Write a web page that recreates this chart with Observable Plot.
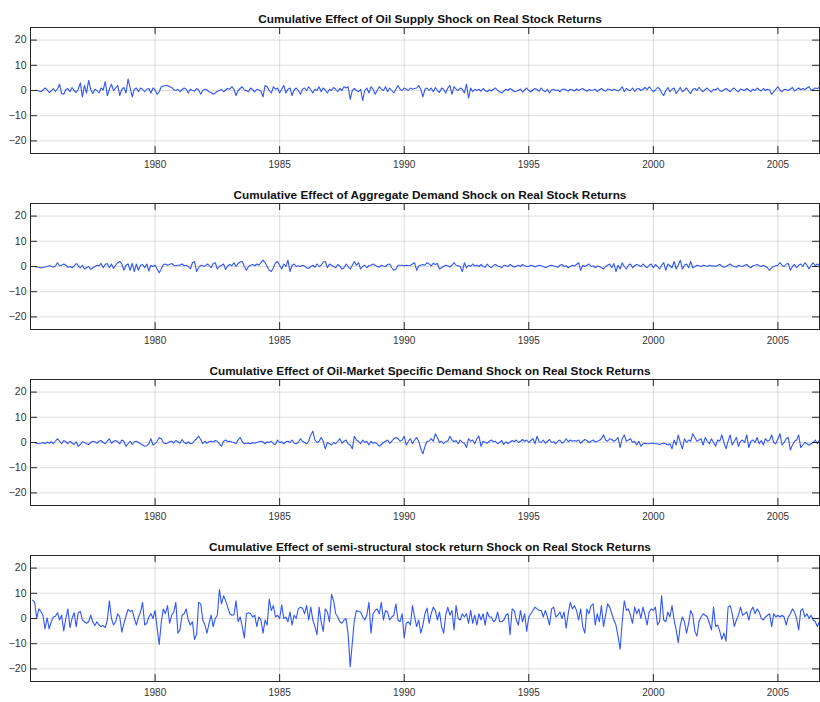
<!DOCTYPE html>
<html><head><meta charset="utf-8">
<script src="https://cdn.jsdelivr.net/npm/d3@7"></script>
<script src="https://cdn.jsdelivr.net/npm/@observablehq/plot@0.6"></script>
<style>body{margin:0;background:#fff;} #chart svg{display:block;}</style>
</head><body><div id="chart"></div>
<script>
const titles = [
  "Cumulative Effect of Oil Supply Shock on Real Stock Returns",
  "Cumulative Effect of Aggregate Demand Shock on Real Stock Returns",
  "Cumulative Effect of Oil-Market Specific Demand Shock on Real Stock Returns",
  "Cumulative Effect of semi-structural stock return Shock on Real Stock Returns"
];
const xTicks = [1980, 1985, 1990, 1995, 2000, 2005];
const yTicks = [-20, -10, 0, 10, 20];
const xDomain = [1975, 2006.67];
const yDomain = [-25, 25];
// monthly observations, first = Feb 1975
const firstYear = 1975, firstMonth = 1;

const oilSupply = [
0,0,0.1,-0.2,-0.5,0.2,1,0.3,-0.8,-0.2,0.8,
-0.4,0.6,2.5,-1.2,-1.5,0.3,0.8,-0.5,1.2,0,-0.8,0.5,
3,-2.5,2,-1,4,0.5,-1.2,0.5,0,-1,1,0.2,
3.5,-2,0.5,2.5,0,1,2,-2,0.5,1.2,-1,4.5,
1,-2.5,0.5,1,-0.5,1,0.5,-0.5,0.5,0.8,-1,1,
0.2,-1.5,-0.5,1.5,1.8,2,2,1.5,1.2,0.3,0,0.5,
-0.5,0.3,1,0.5,-1,0.5,0,-0.3,0.8,0.2,-1.5,0,
0.5,0.2,-0.5,-0.8,-1.5,-1,-0.3,0,0.5,-0.5,0.2,0.8,
0.5,1.5,0.5,-2,0,0.8,1.5,0.2,0,-0.5,1,0.3,
-0.5,0.5,0.2,-0.3,-2.5,2,1.5,0,-1,1.5,0.5,1,
-1,0.5,2,-1,0.5,1,-2,0.3,1,0,-1.5,0.5,
1,0,1.5,0.3,-1,0.5,0,1.5,-0.5,1,0.2,-1,
0.5,0,1.2,0.5,-0.5,0.8,0,1.5,1,1.5,-3.5,0,
0.8,0,-0.5,0.5,-4,0,1,-1,1.5,0.5,-1.5,0,
1.5,0.5,0,1.5,-0.5,1,0,-1,0.5,2,0.5,0,
1,0.5,0,1,0.5,0.8,1,2,0.5,-2.5,0.5,1,
0,1,-0.5,1.2,0,-0.8,1,0.5,-1,1,2,-1.5,
1.5,0.5,0,1,0.5,-1,2.5,-3,1,-0.5,0.5,0,
0.5,-0.3,0.8,0,-0.5,0.3,-0.2,0.5,1,0,-0.5,-1,
-0.2,0.5,0,0.8,0.3,-0.5,-0.3,0,0.6,-0.6,0.2,1,
0,-0.5,0.2,0.8,0.4,-0.3,1,0,-0.5,0.5,-1,0.2,
0.5,0,0.2,-0.5,0.4,0.6,0.2,-0.2,0.5,0.3,-0.2,0.6,
0,0.5,0.8,0.2,-0.3,0.4,0,0.2,0.5,-0.4,0.3,0.8,
0.2,-0.3,0.6,0.4,0,0.5,0.2,-0.2,0.4,1.5,-0.5,0.8,
0.2,0,1,-0.3,0.6,0.8,0,0.5,1.2,0.3,1.5,0.5,
-0.5,0.2,1.2,0.8,-1,-2,0,1.2,-0.5,0.5,1,-1.2,
0,1.2,-0.5,0.2,1,-0.3,-1.2,0.5,0.8,0,1.3,0.2,
-0.5,0.4,1,0,-0.6,0.5,0.2,1,0,-0.4,0.3,0.8,
0.2,-0.5,0.5,1,0,-0.5,0.6,0.3,0,0.8,0.2,-0.4,
0.5,0,1,0.3,-0.2,0.8,0,0.5,0.2,-1.5,-0.5,0.5,
1.5,0.2,-0.5,0.5,0.3,0,0.6,1.2,-0.2,0.4,1,0.3,
0.8,0.3,1,1.5,0,0.5,1,0.8,1.2
];

const aggDemand = [
0,0,-0.2,-0.3,-0.6,-0.4,-0.2,0,0.3,0.1,-0.3,
0.2,1.5,0.3,0.5,1,0.5,-0.3,0,-0.5,0.2,1.2,0.3,
-0.5,0.5,-1,-0.5,0,-1.2,-0.5,0,0.5,0.3,1.2,-0.5,
0.8,1.2,-0.5,1,-0.8,0.5,1.5,2,1,-1.5,0.5,1,
-1.5,1.2,-2,1,-1.5,0.5,0.8,-0.5,1,-1.8,0.5,0,
0.5,-1,-2.5,-1,0.8,1,0.5,0.8,1.2,0.5,0.3,0.5,
0.5,1,0.3,0.5,0,-1,1.5,2,-2,-0.5,0.5,0.3,
0,1,0.5,-0.5,1.2,1.5,-1,0,0.5,1,-1.2,0.2,
0.8,0.3,1.5,0,1.2,1.8,2,0,-1.5,0,0.5,0.8,
0.3,1,0.5,1.5,2.5,1.5,0,-1.5,-2,-0.5,1.5,2,
0.5,-1,1,0,2.5,-2,0.5,1,0,0.3,0,0.5,
0.2,-0.5,-0.8,0,0.5,-0.3,1,0,0.5,1.8,2,-0.5,
1,0.5,0,-0.5,0.8,0.2,-1,-0.5,1,0,-1,0.5,
2,0.5,1.5,-1,0,0.5,-0.5,0.3,0.5,1,0.5,0,
-0.3,0.5,0.2,0,0.8,1,-0.5,-1.5,-1,0.5,0.5,0.5,
0.3,0.5,0.3,0.5,1,1.5,-1.5,0.2,0.5,0.8,0.5,1.5,
1,0.2,1.3,0.8,1.2,-1,-0.5,0,0.5,0.3,-0.2,0.5,
1.5,0.5,0.3,0,-2,1.5,-0.5,0.5,0,1,0.2,0.5,
0,0.8,0,-0.3,1,0,-0.5,0.5,0.8,0.2,0,-0.5,
0.5,0.3,0,0.8,0.3,-0.3,0.2,0.5,0,0.8,0.3,0,
0,0.5,0.3,-0.2,0.2,0.5,0.3,0,-0.5,0,0.3,0.5,
0.2,0,-0.3,0.5,0.8,0,0.3,-0.5,0,0.5,0.2,0.8,
1.5,-1.5,0.5,0,0.5,1,0,0.3,-0.5,0.2,0,-0.5,
-1,0,0.5,1,-0.5,1.2,-2,0.5,-1,1.5,0,-1,
0.5,1,-0.5,0.3,0.8,0.5,0,1,0.2,-0.5,0.5,1,
-0.5,0.8,0,-1,0.5,1.5,-1.5,1,0.3,-0.5,2,-1,
0.5,2.5,-1,0.5,1,-0.5,2,-0.5,0,0.5,0.3,0,
0.5,0.3,0,0.5,0.2,0.3,0,0.5,0.8,0.2,-0.3,0,
0.5,1,0.3,0,-0.3,0.5,0.2,0,0.5,0.8,0,-0.5,
0.3,0.5,0.8,0.3,0,0.5,0,-0.5,-1.5,-0.5,0,0.3,
0.5,1.5,0.5,0,1,1.2,-1.5,0,0.8,-0.5,0.5,1,
0,1.5,0.5,-1,0.5,1.5,0.3,1,0.5
];

const oilSpecific = [
0,0,-0.3,-0.5,-0.3,0,-0.5,0.2,-0.3,0.3,-0.5,
0.5,1.5,0.5,-0.5,0.8,0.3,-0.5,0.5,-0.2,-0.8,0.3,-1.5,
-0.8,0.3,0,-0.5,-0.8,0,0.5,0.3,-0.3,0.5,0.8,0,
-0.5,0.5,1.5,-0.3,0.5,0.8,0.3,-0.5,1,0.5,-1.5,-0.5,
0.5,-0.8,0.3,0.5,0,-0.5,-1,-1.5,-1.3,-0.5,1.5,-1,
-0.5,0.5,2,1.5,0,-0.5,-0.3,0.3,0.5,-0.2,0.8,0.3,
-0.3,1.2,0,-0.5,0.3,-0.5,-0.3,0.8,1.5,2.5,1.2,-0.5,
0.5,-0.3,0.3,0.5,0.2,0.8,0.5,-0.5,-1.5,0.5,1,0.3,
0.5,0.2,0,-0.5,1,2,0.3,-0.5,-0.3,-0.2,-0.5,0,
-0.3,0,0.3,0.5,0.2,-0.5,0.3,0,0.5,-0.5,-0.8,1,
0,0.3,-0.5,0.3,0.5,0,1,-0.3,-0.5,0,1.5,0.5,
0,-0.5,0.5,3,4.5,1,0,0.5,2,0.5,-2.5,0,
-0.5,-1,0,-0.5,0.5,1.5,-0.3,0.5,1,-0.5,-1,-2.5,
2.5,1,0.5,-0.5,1,0,0.5,-1,0.5,-0.3,0,-0.5,
-1.5,-0.8,0,0.5,1,-0.3,0.5,1.5,2,1.5,0.5,1,
2.5,-1,0.5,1.5,-0.5,1,2,0.5,-2.5,-4.5,-1.5,0.5,
0.5,1.5,0.5,3.5,2,0,0.5,-0.5,0.5,0.5,2.5,1,
0.3,0.8,-0.5,1,0,-0.3,-2,1.5,0.5,1,-0.5,1.5,
2.5,-1.5,0.5,0,-0.3,0.5,1,0.3,0.5,-0.5,0,0.8,
-0.8,0.3,-0.5,0.2,0.8,0.3,1,0,0.5,1.2,0.5,1,
0,0.8,1.5,-0.5,2.5,0.3,0,1,-0.3,0.5,1.2,0,
0.3,-0.5,0.5,1,-0.3,0.2,1.5,0.3,1,0.5,0.8,0.5,
1,-0.3,0.5,1.2,0.8,0,0.5,1,0.2,0.5,0.8,1.5,
3,1,0.5,1.5,1.2,0.5,1,2,-2,1.5,3,0.5,
1,1.5,0,0.5,-1,0.5,-1.5,-0.5,-0.3,-0.5,-0.5,-0.3,
-0.3,-0.5,-0.5,-0.8,-0.5,-0.3,-0.5,-1,-0.5,-2.5,1,-1,
3,0,-2.5,1.5,0,1,0.5,3.5,2,0.5,1,1.5,
-1,2,0.5,-0.5,1.5,0,-1.5,1,0.5,3,0,-2.5,
0.5,3,-1,0.5,2,-1.5,0.5,1,0,3,-2,0.5,
1,0,2,-0.5,0.8,-1,1.5,0.5,1,3,0,-0.5,
1.5,3.5,-1,0,1.5,2,-3,-1,0.5,1,3,-2,
-1,0,-0.5,-1,-0.5,0,1,-0.5,1
];

const semiStructural = [
7.3,6.4,0,3.8,2.8,1.3,-4.1,0.3,-4.1,-1.3,
0.6,0.9,2.3,-0.6,1.3,-4.9,0,3.8,-3.6,0,
2.3,-3.2,2.3,2.8,-0.6,-1.3,-1.9,-1.3,1.3,-1.3,
-2.8,-1.3,-2.6,-3.2,-2.8,-3.6,-0.6,7,0,-2.6,
-1.3,1.9,0.6,-5.4,-1.9,1,3.6,2.8,3.2,0,
-2.6,0.6,2.6,6.4,-2.6,-1.9,0.6,1.9,0,3.2,
-3.8,-10.3,-1.3,3.8,1.9,5.1,-1.9,1.3,2.6,6.4,
-5.8,-4.5,1.3,1.9,3.8,-0.6,-2.6,-1.3,-8.3,-6.4,
6.4,5.8,-0.6,-2.6,-5.8,-1.9,1.3,-3.2,0,1.3,
11.5,5.8,9,7,
4.5,1.9,1.3,1.5,7,-1.3,0.6,-3.2,-7.7,1.9,
2.3,1.9,0.6,1.3,-3.2,0.6,-0.6,-5.8,-0.6,-2.6,
7.7,3.2,5.1,0.6,1.3,0,5.4,0,0.6,-1.3,
2.6,-2.6,1.3,0,3.8,4.5,4.1,1.9,5.1,-0.6,
4.5,-0.6,-3.2,-6.4,4.5,-1.3,-5.1,3.8,2.6,-1.3,
9.6,7,1.9,0.6,-1.3,-1.9,-0.6,0,-6.4,-19.2,
-9.6,-0.6,3.2,2.8,2.6,0.6,-0.6,1.3,6.4,-5.8,
1.9,3.2,3.8,1.9,6.4,-0.6,3.2,2.6,-0.6,0.6,
1.3,5.8,-0.6,-1.3,1.9,-7.7,-1.9,-1.3,-2.6,5.1,
0.6,-3.2,-0.6,-5.8,-2.6,
1.9,4.1,-1.9,1.9,4.5,3.2,-0.6,2.6,-3.2,-5.8,
1.3,4.5,1.3,3.2,-4.5,5.1,0,-0.6,1.9,0.6,
1.9,-1.9,3.2,-1.9,1.3,-2.6,1.9,-0.6,1.9,-2.6,
2.6,0.6,0.6,-1.3,-0.6,2.6,-1.3,-1.3,-0.6,1.3,
1.9,-6.4,3.8,3.2,-0.6,-2.6,3.2,-1.3,1.9,-5.1,
0.6,1.9,3.2,4.5,3.8,3.2,3.2,0.6,3.2,0.6,
-2.6,3.8,4.5,0.6,1.3,2.6,0,2.6,-3.8,1.9,
6.4,3.8,5.1,3.2,-0.6,3.8,-3.2,-5.8,3.8,1.9,
5.1,5.8,-2.6,1.9,-1.3,5.1,-3.2,1.3,5.8,4.5,
1.9,-0.6,-2.6,-7,-12.2,
-1.3,7,3.2,3.8,1.3,-1.9,4.5,1.9,3.8,0,
4.5,1.3,-2.6,2.6,3.8,3.2,4.5,-2.6,-1.3,9,
-0.6,-1.3,2.6,0.6,5.1,-0.6,-4.5,-9.6,-2.6,0.6,
-1.3,-5.8,-1.9,3.2,1.3,-5.1,-7,-1.3,0.6,1.9,
1.3,0.6,-1.9,-4.5,4.5,-3.2,-2.6,-5.1,-8.3,-5.8,
-9,4.5,5.1,1.9,-3.2,-0.6,1.3,4.5,1.3,1.9,
2.6,-0.6,3.2,4.5,1.9,3.8,2.6,0,-0.6,0.6,
1.3,1.9,-3.2,1.9,0.6,1.3,0.6,1.3,0.6,-2.6,
0.6,1.9,3.8,2.6,0,-4.5,3.2,3.8,0.6,1.9,
0,1.3,-0.6,-1.3,-3.2,-1.3
];

const seriesList = [oilSupply, aggDemand, oilSpecific, semiStructural];

const W = 820, H = 176, mTop = 27, mBottom = 23, mLeft = 30, mRight = 1;
const frameW = W - mLeft - mRight, frameH = H - mTop - mBottom;
const tickLen = 7;
const font = "Helvetica, Arial, 'Liberation Sans', sans-serif";
const ink = "#262626";

function panel(title, values) {
  const data = values.map((v, i) => ({date: firstYear + (firstMonth + i) / 12, value: v}));
  return Plot.plot({
    width: W, height: H,
    marginTop: mTop, marginBottom: mBottom, marginLeft: mLeft, marginRight: mRight,
    style: {fontFamily: font, background: "#fff"},
    x: {domain: xDomain},
    y: {domain: yDomain},
    marks: [
      Plot.gridX(xTicks, {stroke: "#000", strokeOpacity: 0.13}),
      Plot.gridY(yTicks, {stroke: "#000", strokeOpacity: 0.13}),
      Plot.lineY(data, {x: "date", y: "value", stroke: "#3156f5", strokeWidth: 1.1, clip: true}),
      Plot.ruleX(xTicks, {stroke: ink, strokeWidth: 1, insetBottom: frameH - tickLen}),
      Plot.ruleX(xTicks, {stroke: ink, strokeWidth: 1, insetTop: frameH - tickLen}),
      Plot.ruleY(yTicks, {stroke: ink, strokeWidth: 1, insetRight: frameW - tickLen}),
      Plot.ruleY(yTicks, {stroke: ink, strokeWidth: 1, insetLeft: frameW - tickLen}),
      Plot.frame({stroke: ink, strokeWidth: 1}),
      Plot.axisX(xTicks, {tickSize: 0, tickPadding: 7, fontSize: 10, fill: "#333", tickFormat: d => String(d), label: null}),
      Plot.axisY(yTicks, {tickSize: 0, tickPadding: 4, fontSize: 10.5, fill: "#333", label: null}),
      Plot.text([title], {frameAnchor: "top", dy: -13, dx: 5, fontWeight: "bold", fontSize: 11.8, fill: "#111"})
    ]
  });
}

const root = document.getElementById("chart");
titles.forEach((t, i) => root.appendChild(panel(t, seriesList[i])));
</script>
</body></html>
